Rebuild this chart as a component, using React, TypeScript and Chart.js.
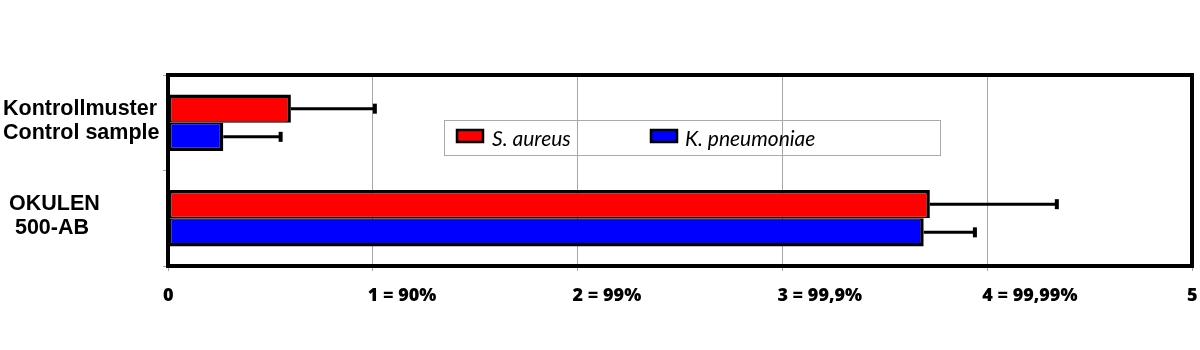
import React, { useEffect, useRef } from "react";
import { Chart, registerables } from "chart.js";

Chart.register(...registerables);

// Category labels (two lines each)
const categories: string[][] = [
  ["Kontrollmuster", "Control sample"],
  [" OKULEN", "  500-AB"],
];

const seriesNames = ["S. aureus", "K. pneumoniae"];
const seriesColors = ["#FF0000", "#0000FF"];

// Log reduction values and upper error extents
const aureusValues = [0.6, 3.72];
const aureusErrors = [0.41, 0.62];
const pneumoniaeValues = [0.27, 3.69];
const pneumoniaeErrors = [0.28, 0.25];

const xTickLabels = ["0", "1 = 90%", "2 = 99%", "3 = 99,9%", "4 = 99,99%", "5"];

// Frame around the plot area plus error whiskers from the bar end to value + error
const errorBarPlugin = {
  id: "errorBars",
  afterDatasetsDraw(chart: any) {
    const ctx = chart.ctx;
    const xScale = chart.scales.x;
    const a = chart.chartArea;
    ctx.save();
    ctx.strokeStyle = "#000";
    ctx.lineWidth = 4;
    ctx.strokeRect(a.left, a.top, a.right - a.left, a.bottom - a.top);
    ctx.restore();

    chart.data.datasets.forEach((ds: any, i: number) => {
      const meta = chart.getDatasetMeta(i);
      meta.data.forEach((bar: any, j: number) => {
        const v = ds.data[j];
        const e = ds.errors[j];
        const x0 = xScale.getPixelForValue(v);
        const x1 = xScale.getPixelForValue(v + e);
        const y = bar.y;
        ctx.save();
        ctx.strokeStyle = "#000";
        ctx.lineWidth = 3;
        ctx.beginPath();
        ctx.moveTo(x0, y);
        ctx.lineTo(x1, y);
        ctx.stroke();
        ctx.lineWidth = 4;
        ctx.beginPath();
        ctx.moveTo(x1, y - 5);
        ctx.lineTo(x1, y + 5);
        ctx.stroke();
        ctx.restore();
      });
    });
  },
};

// Boxed legend placed inside the plot area
const boxLegendPlugin = {
  id: "boxLegend",
  afterDraw(chart: any) {
    const ctx = chart.ctx;
    ctx.save();
    ctx.strokeStyle = "#AAAAAA";
    ctx.lineWidth = 1;
    ctx.strokeRect(444.5, 120.5, 496, 35);
    const items = [
      { sx: 457, tx: 492 },
      { sx: 651, tx: 685 },
    ];
    chart.data.datasets.forEach((ds: any, i: number) => {
      const it = items[i];
      ctx.fillStyle = ds.backgroundColor;
      ctx.fillRect(it.sx, 130, 26, 12);
      ctx.strokeStyle = "#000";
      ctx.lineWidth = 2.5;
      ctx.strokeRect(it.sx, 130, 26, 12);
      ctx.fillStyle = "#000";
      ctx.font = "italic 21px Lato";
      ctx.textBaseline = "alphabetic";
      ctx.fillText(ds.label, it.tx, 146);
    });
    ctx.restore();
  },
};

export default function App() {
  const canvasRef = useRef<HTMLCanvasElement | null>(null);

  useEffect(() => {
    const canvas = canvasRef.current;
    if (!canvas) return;
    const chart = new Chart(canvas, {
      type: "bar",
      data: {
        labels: categories,
        datasets: [
          {
            label: seriesNames[0],
            data: aureusValues,
            errors: aureusErrors,
            backgroundColor: seriesColors[0],
            borderColor: "#000",
            borderWidth: { top: 3.5, right: 3.5, bottom: 1.5, left: 3 },
            borderSkipped: false,
            categoryPercentage: 0.59,
            barPercentage: 1,
          } as any,
          {
            label: seriesNames[1],
            data: pneumoniaeValues,
            errors: pneumoniaeErrors,
            backgroundColor: seriesColors[1],
            borderColor: "#000",
            borderWidth: { top: 1.5, right: 3.5, bottom: 3.5, left: 3 },
            borderSkipped: false,
            categoryPercentage: 0.59,
            barPercentage: 1,
          } as any,
        ],
      },
      options: {
        indexAxis: "y",
        responsive: false,
        animation: false,
        layout: { padding: { left: 3, right: 8, top: 75, bottom: 0 } },
        plugins: {
          legend: { display: false },
          tooltip: { enabled: false },
        },
        scales: {
          x: {
            min: 0,
            max: 5,
            ticks: {
              stepSize: 1,
              align: "start",
              labelOffset: -5,
              padding: 14,
              color: "#000",
              font: { family: "Open Sans", size: 18, weight: "800" },
              callback: (v: any) => xTickLabels[Number(v)] ?? "",
            },
            grid: {
              color: "#A6A6A6",
              lineWidth: 1,
              tickLength: 5,
              drawOnChartArea: true,
            },
            border: { display: false },
            afterFit: (scale: any) => {
              scale.height = 84;
              scale.paddingLeft = 0;
              scale.paddingRight = 0;
            },
          },
          y: {
            ticks: {
              crossAlign: "far",
              labelOffset: -2,
              color: "#000",
              font: { family: "Liberation Sans", size: 21.5, weight: "bold", lineHeight: 1.12 },
            },
            grid: {
              color: "#A6A6A6",
              drawOnChartArea: false,
              tickLength: 5,
            },
            border: { display: false },
            afterFit: (scale: any) => {
              scale.width = 165;
            },
          },
        },
      },
      plugins: [errorBarPlugin, boxLegendPlugin],
    } as any);
    return () => chart.destroy();
  }, []);

  return (
    <div style={{ position: "fixed", left: 0, top: 0, width: 1200, height: 350, background: "#fff" }}>
      <canvas ref={canvasRef} width={1200} height={350} style={{ display: "block" }} />
    </div>
  );
}
